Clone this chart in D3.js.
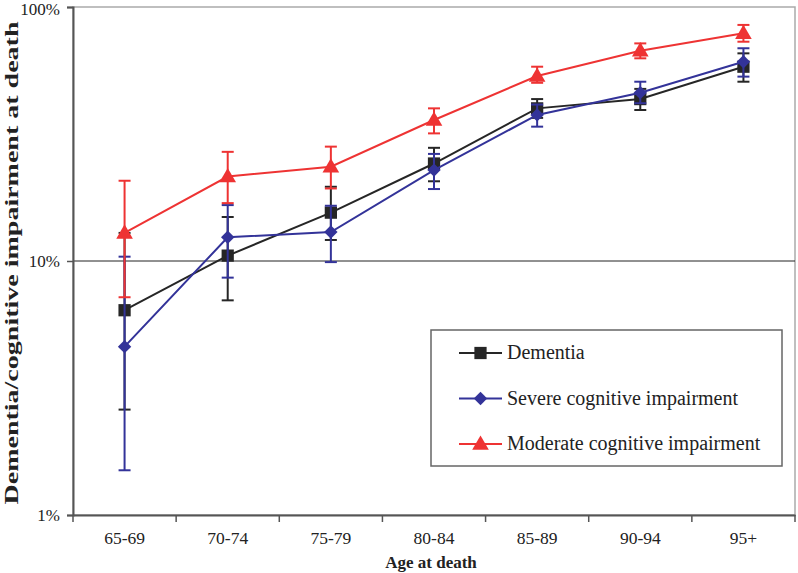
<!DOCTYPE html>
<html lang="en">
<head>
    <meta charset="utf-8"/>
    <title>Dementia by age at death</title>
    <script src="https://d3js.org/d3.v7.min.js"></script>
    <style>
        body { margin: 0; background: #fff; }
    </style>
</head>
<body>
<svg width="798" height="573"></svg>

<script>
    // categories and tick labels
    const ages = ["65-69", "70-74", "75-79", "80-84", "85-89", "90-94", "95+"];
    const yTicks = [1, 10, 100];

    // values in percent, with lower/upper error limits
    const dementia      = [6.4, 10.5, 15.5, 24.2, 39.9, 43.4, 58.2];
    const dementiaLo    = [2.6, 7.0, 12.1, 20.6, 36.6, 39.3, 50.8];
    const dementiaHi    = [12.9, 14.9, 19.6, 27.9, 43.4, 47.6, 65.7];

    const severe        = [4.6, 12.4, 13.0, 22.8, 37.6, 46.0, 60.9];
    const severeLo      = [1.5, 8.6, 9.9, 19.2, 33.8, 41.8, 53.2];
    const severeHi      = [10.4, 16.6, 16.5, 26.4, 41.3, 50.8, 68.8];

    const moderate      = [12.9, 21.5, 23.5, 35.9, 53.5, 67.3, 78.8];
    const moderateLo    = [7.2, 16.9, 19.3, 31.8, 50.3, 62.8, 73.0];
    const moderateHi    = [20.7, 26.9, 28.2, 39.9, 58.2, 71.9, 85.0];

    const seriesNames = ["Dementia", "Severe cognitive impairment", "Moderate cognitive impairment"];

    const FONT = "'Liberation Serif', 'Times New Roman', serif";
    const mLeft = 73, mRight = 795, mTop = 7, mBottom = 515;
    const svg = d3.select("svg");

    const x = d3.scaleBand().domain(ages).range([mLeft, mRight]);
    const y = d3.scaleLog().domain([1, 100]).range([mBottom, mTop]);

    // frame
    svg.append("rect")
        .attr("x", mLeft).attr("y", mTop)
        .attr("width", mRight - mLeft).attr("height", mBottom - mTop)
        .attr("fill", "none").attr("stroke", "#aaa").attr("stroke-width", 1.5);

    // 10% line
    svg.append("line")
        .attr("x1", mLeft).attr("x2", mRight)
        .attr("y1", y(10)).attr("y2", y(10))
        .attr("stroke", "#222").attr("stroke-width", 1);

    // y axis
    const yAxis = svg.append("g")
        .attr("transform", "translate(" + mLeft + ",0)")
        .call(d3.axisLeft(y).tickValues(yTicks).tickFormat(d => d + "%").tickSize(6).tickPadding(7));
    yAxis.attr("font-family", null).attr("font-size", null);
    yAxis.select(".domain").attr("stroke", "#555").attr("stroke-width", 2);
    yAxis.selectAll(".tick line").attr("stroke", "#555").attr("stroke-width", 1.5);
    yAxis.selectAll("text").style("font-size", "17px").style("font-family", FONT).attr("fill", "#222");
    // keep the top label inside the page
    yAxis.selectAll(".tick").filter(d => d === 100).select("text").attr("dy", "0.42em");

    // x axis, ticks between categories
    const xAxis = svg.append("g")
        .attr("transform", "translate(0," + mBottom + ")")
        .call(d3.axisBottom(x).tickSize(0).tickPadding(17));
    xAxis.attr("font-family", null).attr("font-size", null);
    xAxis.select(".domain").attr("stroke", "#555").attr("stroke-width", 2);
    xAxis.selectAll("text").style("font-size", "17.5px").style("font-family", FONT).attr("fill", "#222");
    xAxis.selectAll(".sep")
        .data(ages.concat(["end"]))
        .enter().append("line")
        .attr("class", "sep")
        .attr("x1", (d, i) => mLeft + i * x.bandwidth())
        .attr("x2", (d, i) => mLeft + i * x.bandwidth())
        .attr("y1", 0).attr("y2", 7)
        .attr("stroke", "#555").attr("stroke-width", 1.5);

    // axis titles
    svg.append("text")
        .attr("x", (mLeft + mRight) / 2 - 3).attr("y", 568)
        .attr("text-anchor", "middle")
        .style("font-family", FONT)
        .style("font-size", "17px").style("font-weight", "bold")
        .attr("fill", "#222")
        .text("Age at death");
    svg.append("text")
        .attr("transform", "translate(18,263) rotate(-90)")
        .attr("text-anchor", "middle")
        .attr("textLength", 483)
        .attr("lengthAdjust", "spacingAndGlyphs")
        .style("font-family", FONT)
        .style("font-size", "18px").style("font-weight", "bold")
        .attr("fill", "#222")
        .text("Dementia/cognitive impairment at death");

    // diamond = square turned 45 degrees
    const series = [
        {name: seriesNames[0], v: dementia, lo: dementiaLo, hi: dementiaHi, color: "#262626", shape: d3.symbolSquare, size: 150, rot: 0, dy: 0},
        {name: seriesNames[1], v: severe, lo: severeLo, hi: severeHi, color: "#333399", shape: d3.symbolSquare, size: 90, rot: 45, dy: 0},
        {name: seriesNames[2], v: moderate, lo: moderateLo, hi: moderateHi, color: "#ee3333", shape: d3.symbolTriangle, size: 120, rot: 0, dy: 1}
    ];

    const line = d3.line()
        .x((d, i) => x(ages[i]) + x.bandwidth() / 2)
        .y(d => y(d));

    series.forEach(function (s) {
        const g = svg.append("g");
        const cx = i => x(ages[i]) + x.bandwidth() / 2;

        // error bars
        s.v.forEach(function (d, i) {
            g.append("line")
                .attr("x1", cx(i)).attr("x2", cx(i))
                .attr("y1", y(s.lo[i])).attr("y2", y(s.hi[i]))
                .attr("stroke", s.color).attr("stroke-width", 2);
            [s.lo[i], s.hi[i]].forEach(function (e) {
                g.append("line")
                    .attr("x1", cx(i) - 6).attr("x2", cx(i) + 6)
                    .attr("y1", y(e)).attr("y2", y(e))
                    .attr("stroke", s.color).attr("stroke-width", 2);
            });
        });

        g.append("path")
            .attr("d", line(s.v))
            .attr("fill", "none")
            .attr("stroke", s.color)
            .attr("stroke-width", 2);

        g.selectAll(".pt")
            .data(s.v)
            .enter().append("path")
            .attr("transform", (d, i) => "translate(" + cx(i) + "," + (y(d) + s.dy) + ") rotate(" + s.rot + ")")
            .attr("d", d3.symbol().type(s.shape).size(s.size))
            .attr("fill", s.color);
    });

    // legend
    const lg = svg.append("g").attr("transform", "translate(431,330)");
    lg.append("rect")
        .attr("width", 351).attr("height", 136)
        .attr("fill", "#fff").attr("stroke", "#666").attr("stroke-width", 1.5);
    series.forEach(function (s, i) {
        const ly = 23 + i * 45.5;
        lg.append("line")
            .attr("x1", 28).attr("x2", 71)
            .attr("y1", ly).attr("y2", ly)
            .attr("stroke", s.color).attr("stroke-width", 2);
        lg.append("path")
            .attr("transform", "translate(49.5," + (ly + s.dy) + ") rotate(" + s.rot + ")")
            .attr("d", d3.symbol().type(s.shape).size(s.size))
            .attr("fill", s.color);
        lg.append("text")
            .attr("x", 76).attr("y", ly + 6)
            .style("font-family", FONT)
            .style("font-size", "20px")
            .attr("fill", "#222")
            .text(s.name);
    });
</script>
</body>
</html>
